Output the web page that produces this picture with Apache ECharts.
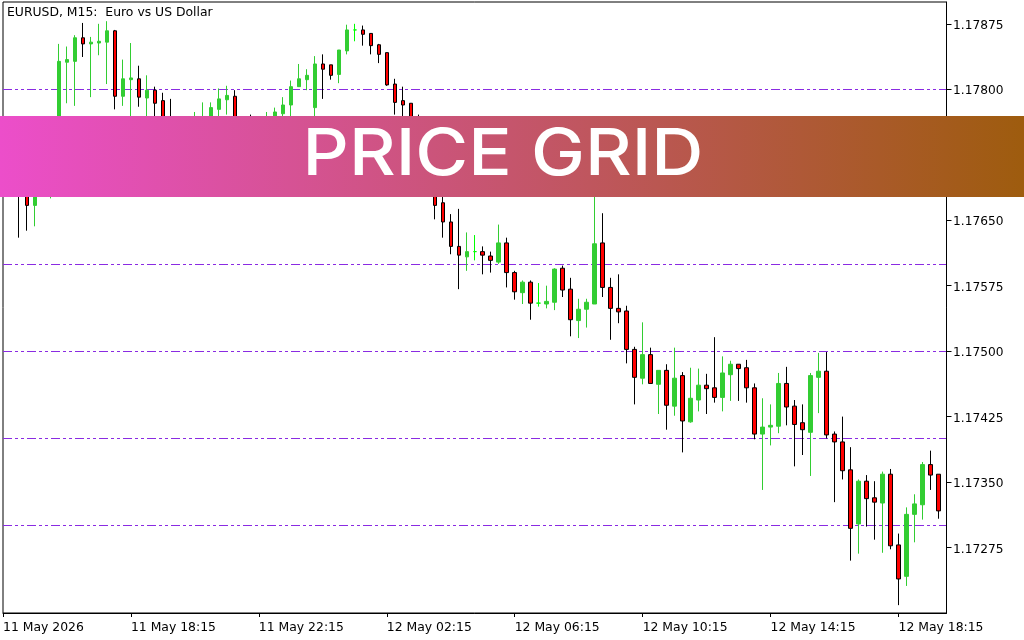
<!DOCTYPE html>
<html lang="en">
<head>
    <meta charset="UTF-8">
    <title>Price Grid</title>
    <script src="https://cdn.jsdelivr.net/npm/echarts@6/dist/echarts.min.js"></script>
    <style>
        html, body { margin: 0; padding: 0; background: #fff; }
    </style>
</head>
<body>
<div id="chart" style="width: 1024px; height: 640px;"></div>
<script>
    // M15 bars, one every 15 minutes, first bar 11 May 14:15
    var barCount = 119;
    var tickLabels = ['11 May 2026', '11 May 18:15', '11 May 22:15', '12 May 02:15', '12 May 06:15', '12 May 10:15', '12 May 14:15', '12 May 18:15'];
    var priceTicks = [1.17275, 1.1735, 1.17425, 1.175, 1.17575, 1.1765, 1.17725, 1.178, 1.17875];
    var priceMin = 1.172;
    var priceMax = 1.179;
    var gridStep = 0.001;

    var opens = [
        1.17708, 1.17696, 1.17690, 1.17685, 1.17667, 1.17685, 1.17696, 1.17730, 1.17831, 1.17832,
        1.17859, 1.17852, 1.17853, 1.17854, 1.17867, 1.17792, 1.17811, 1.17812, 1.17790, 1.17799,
        1.17787, 1.17759, 1.17748, 1.17753, 1.17753, 1.17759, 1.17763, 1.17777, 1.17788, 1.17792,
        1.17759, 1.17756, 1.17742, 1.17753, 1.17763, 1.17772, 1.17782, 1.17803, 1.17811, 1.17779,
        1.17829, 1.17828, 1.17817, 1.17844, 1.17868, 1.17868, 1.17864, 1.17851, 1.17842, 1.17806,
        1.17787, 1.17784, 1.17753, 1.17730, 1.17702, 1.17670, 1.17648, 1.17620, 1.17608, 1.17614,
        1.17614, 1.17609, 1.17602, 1.17624, 1.17590, 1.17567, 1.17579, 1.17555, 1.17554, 1.17556,
        1.17595, 1.17571, 1.17535, 1.17548, 1.17554, 1.17624, 1.17573, 1.17549, 1.17546, 1.17502,
        1.17469, 1.17496, 1.17462, 1.17478, 1.17437, 1.17472, 1.17419, 1.17444, 1.17461, 1.17458,
        1.17447, 1.17473, 1.17485, 1.17481, 1.17458, 1.17405, 1.17413, 1.17414, 1.17463, 1.17437,
        1.17418, 1.17407, 1.17470, 1.17477, 1.17405, 1.17396, 1.17364, 1.17302, 1.17351, 1.17332,
        1.17326, 1.17359, 1.17278, 1.17242, 1.17313, 1.17324, 1.17370, 1.17359
    ];
    var closes = [
        1.17696, 1.17685, 1.17679, 1.17667, 1.17687, 1.17702, 1.17730, 1.17832, 1.17834, 1.17859,
        1.17852, 1.17854, 1.17855, 1.17867, 1.17792, 1.17812, 1.17813, 1.17791, 1.17799, 1.17784,
        1.17756, 1.17748, 1.17759, 1.17763, 1.17765, 1.17767, 1.17779, 1.17789, 1.17793, 1.17759,
        1.17753, 1.17748, 1.17753, 1.17763, 1.17774, 1.17782, 1.17803, 1.17812, 1.17816, 1.17829,
        1.17823, 1.17816, 1.17845, 1.17868, 1.17868, 1.17863, 1.17850, 1.17840, 1.17805, 1.17785,
        1.17782, 1.17753, 1.17730, 1.17708, 1.17667, 1.17648, 1.17620, 1.17610, 1.17614, 1.17614,
        1.17610, 1.17604, 1.17624, 1.17590, 1.17568, 1.17579, 1.17555, 1.17555, 1.17557, 1.17594,
        1.17570, 1.17536, 1.17548, 1.17556, 1.17623, 1.17573, 1.17549, 1.17545, 1.17502, 1.17470,
        1.17496, 1.17463, 1.17478, 1.17438, 1.17469, 1.17420, 1.17446, 1.17461, 1.17457, 1.17447,
        1.17475, 1.17485, 1.17480, 1.17458, 1.17405, 1.17413, 1.17415, 1.17463, 1.17436, 1.17416,
        1.17410, 1.17472, 1.17477, 1.17404, 1.17396, 1.17363, 1.17297, 1.17351, 1.17331, 1.17327,
        1.17359, 1.17277, 1.17239, 1.17313, 1.17325, 1.17370, 1.17358, 1.17317
    ];
    var lows = [
        1.17685, 1.17679, 1.17630, 1.17638, 1.17643, 1.17679, 1.17675, 1.17725, 1.17784, 1.17781,
        1.17837, 1.17791, 1.17839, 1.17806, 1.17777, 1.17781, 1.17765, 1.17780, 1.17763, 1.17751,
        1.17748, 1.17742, 1.17740, 1.17744, 1.17747, 1.17753, 1.17756, 1.17767, 1.17771, 1.17751,
        1.17742, 1.17736, 1.17733, 1.17747, 1.17756, 1.17765, 1.17767, 1.17803, 1.17799, 1.17765,
        1.17789, 1.17811, 1.17807, 1.17840, 1.17855, 1.17850, 1.17840, 1.17830, 1.17804, 1.17771,
        1.17767, 1.17742, 1.17721, 1.17696, 1.17651, 1.17630, 1.17611, 1.17571, 1.17592, 1.17604,
        1.17588, 1.17590, 1.17600, 1.17573, 1.17559, 1.17554, 1.17536, 1.17551, 1.17549, 1.17547,
        1.17562, 1.17517, 1.17515, 1.17527, 1.17554, 1.17562, 1.17513, 1.17532, 1.17486, 1.17439,
        1.17462, 1.17463, 1.17428, 1.17410, 1.17426, 1.17384, 1.17418, 1.17431, 1.17428, 1.17441,
        1.17431, 1.17443, 1.17443, 1.17441, 1.17399, 1.17341, 1.17392, 1.17406, 1.17415, 1.17368,
        1.17381, 1.17357, 1.17429, 1.17400, 1.17327, 1.17353, 1.17260, 1.17268, 1.17299, 1.17284,
        1.17269, 1.17273, 1.17209, 1.17231, 1.17281, 1.17307, 1.17341, 1.17308
    ];
    var highs = [
        1.17730, 1.17708, 1.17702, 1.17698, 1.17696, 1.17710, 1.17742, 1.17852, 1.17849, 1.17862,
        1.17876, 1.17860, 1.17875, 1.17878, 1.17868, 1.17834, 1.17853, 1.17827, 1.17816, 1.17803,
        1.17796, 1.17789, 1.17767, 1.17768, 1.17774, 1.17785, 1.17785, 1.17801, 1.17804, 1.17799,
        1.17767, 1.17771, 1.17767, 1.17774, 1.17779, 1.17791, 1.17810, 1.17829, 1.17823, 1.17838,
        1.17840, 1.17828, 1.17845, 1.17874, 1.17875, 1.17873, 1.17864, 1.17852, 1.17842, 1.17812,
        1.17803, 1.17784, 1.17771, 1.17748, 1.17719, 1.17685, 1.17657, 1.17663, 1.17636, 1.17633,
        1.17620, 1.17614, 1.17645, 1.17630, 1.17592, 1.17581, 1.17581, 1.17578, 1.17575, 1.17595,
        1.17598, 1.17584, 1.17560, 1.17560, 1.17702, 1.17658, 1.17584, 1.17588, 1.17552, 1.17505,
        1.17533, 1.17504, 1.17478, 1.17485, 1.17504, 1.17476, 1.17481, 1.17480, 1.17474, 1.17516,
        1.17494, 1.17489, 1.17485, 1.17490, 1.17463, 1.17446, 1.17439, 1.17475, 1.17482, 1.17444,
        1.17439, 1.17475, 1.17498, 1.17499, 1.17408, 1.17425, 1.17390, 1.17353, 1.17358, 1.17351,
        1.17362, 1.17365, 1.17291, 1.17321, 1.17336, 1.17373, 1.17386, 1.17359
    ];

    // category names are the bar times, tick text comes from tickLabels
    var categories = [];
    for (var i = 0; i < barCount; i++) {
        var mins = 14 * 60 + 15 + i * 15;
        var day = mins >= 1440 ? '12 May ' : '11 May ';
        mins = mins % 1440;
        categories.push(day + ('0' + Math.floor(mins / 60)).slice(-2) + ':' + ('0' + (mins % 60)).slice(-2));
    }

    var candles = [];
    for (var j = 0; j < opens.length; j++) {
        candles.push([opens[j], closes[j], lows[j], highs[j]]);
    }

    var chart = echarts.init(document.getElementById('chart'), null, { renderer: 'canvas' });

    chart.setOption({
        animation: false,
        backgroundColor: '#fff',
        textStyle: { fontFamily: 'DejaVu Sans', fontSize: 12, color: '#000' },
        title: {
            text: 'EURUSD, M15:  Euro vs US Dollar',
            left: 7,
            top: 7,
            padding: 0,
            textStyle: { fontFamily: 'DejaVu Sans', fontSize: 12.4, fontWeight: 'normal', color: '#000' }
        },
        grid: {
            show: true,
            left: 2.5,
            top: 2,
            width: 944,
            height: 611,
            borderColor: '#000',
            borderWidth: 1,
            backgroundColor: '#fff'
        },
        xAxis: {
            type: 'category',
            data: categories,
            boundaryGap: false,
            axisLine: { show: true, lineStyle: { color: '#000', width: 1 } },
            axisTick: { show: true, interval: 15, length: 4, lineStyle: { color: '#000', width: 1 } },
            axisLabel: {
                show: true,
                interval: 15,
                align: 'left',
                margin: 9,
                color: '#000',
                fontFamily: 'DejaVu Sans',
                fontSize: 12.4,
                hideOverlap: false,
                formatter: function (value, index) {
                    return tickLabels[index / 16] || '';
                }
            },
            splitLine: { show: false }
        },
        yAxis: [{
            type: 'value',
            position: 'right',
            min: priceMin,
            max: priceMax,
            axisLine: { show: true, lineStyle: { color: '#000', width: 1 } },
            axisTick: { show: true, length: 5, customValues: priceTicks, lineStyle: { color: '#000', width: 1 } },
            axisLabel: {
                show: true,
                margin: 6.5,
                color: '#000',
                fontFamily: 'DejaVu Sans',
                fontSize: 12.2,
                customValues: priceTicks,
                formatter: function (value) {
                    return '{p|' + value.toFixed(5) + '}';
                },
                rich: {
                    // pushes the text a little below its tick
                    p: { padding: [4, 0, 0, 0], fontFamily: 'DejaVu Sans', fontSize: 12.2, color: '#000' }
                }
            },
            splitLine: { show: false }
        }, {
            // round price levels, the dash-dot grid only
            type: 'value',
            position: 'left',
            min: priceMin,
            max: priceMax,
            interval: gridStep,
            axisLine: { show: false },
            axisTick: { show: false },
            axisLabel: { show: false },
            splitLine: {
                show: true,
                showMinLine: false,
                showMaxLine: false,
                lineStyle: { color: '#8A2BE2', width: 1, type: [9, 3, 3, 3, 3, 3] }
            }
        }],
        series: [{
            type: 'candlestick',
            data: candles,
            barWidth: 4,
            yAxisIndex: 0,
            itemStyle: {
                color: '#32CD32',
                color0: '#FF0000',
                borderColor: '#32CD32',
                borderColor0: '#000000',
                borderColorDoji: '#00FF00',
                borderWidth: 1
            }
        }],
        graphic: [{
            type: 'rect',
            z: 100,
            shape: { x: 0, y: 116, width: 1024, height: 81 },
            style: {
                fill: new echarts.graphic.LinearGradient(0, 0, 1, 0, [
                    { offset: 0, color: '#EC4ECA' },
                    { offset: 1, color: '#9E5C0E' }
                ])
            }
        }, {
            type: 'text',
            z: 101,
            x: 503,
            y: 155,
            scaleX: 1.11,
            style: {
                text: 'PRICE GRID',
                fill: '#fff',
                font: '500 65px Inter',
                textAlign: 'center',
                textVerticalAlign: 'middle'
            }
        }]
    });
</script>
</body>
</html>
